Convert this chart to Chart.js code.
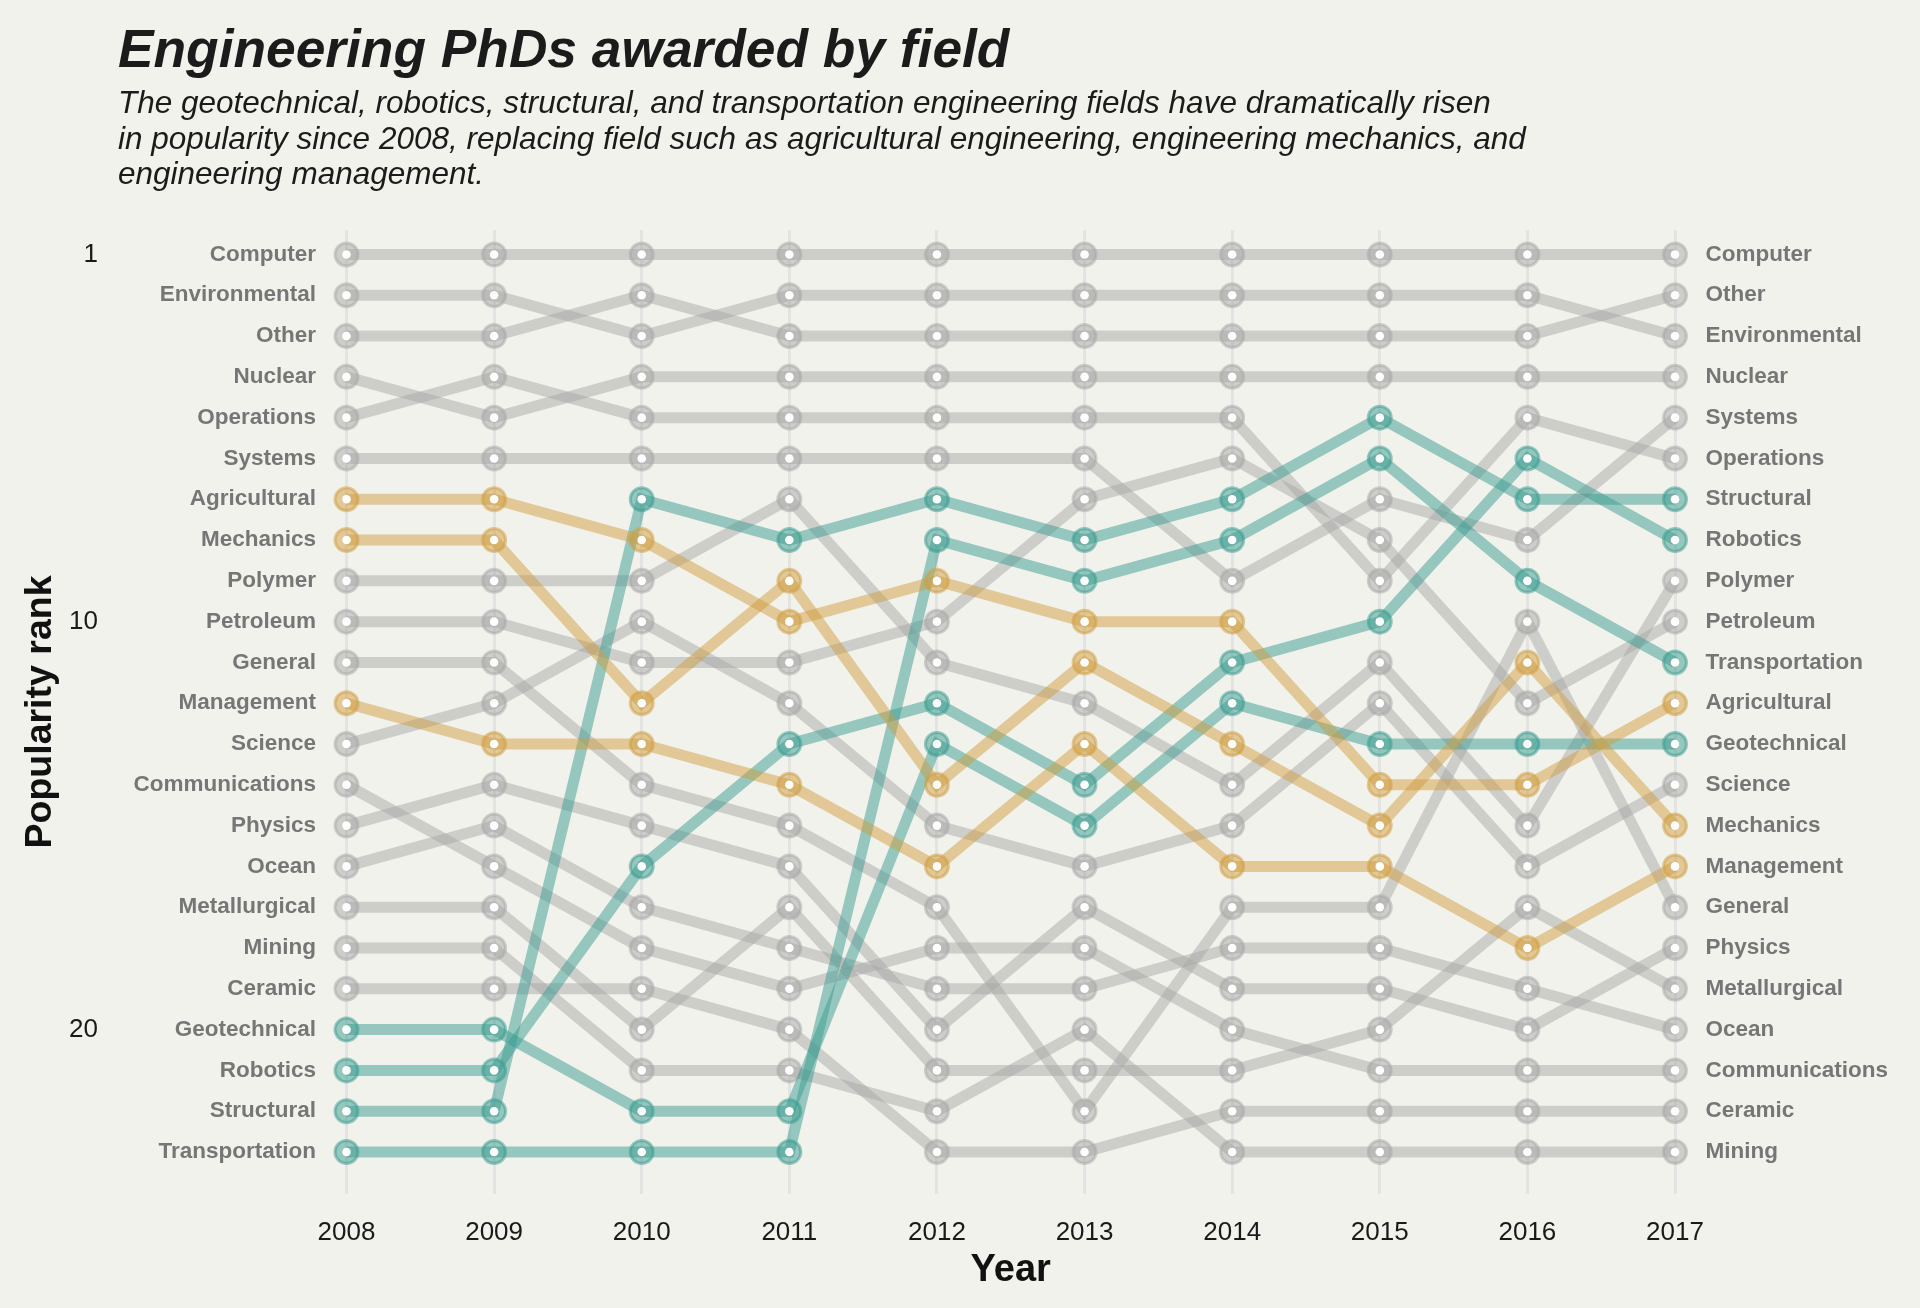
<!DOCTYPE html>
<html>
<head>
<meta charset="utf-8">
<title>Engineering PhDs awarded by field</title>
<script src="https://cdn.jsdelivr.net/npm/chart.js@4.4.1/dist/chart.umd.min.js"></script>
<style>
  html, body { margin: 0; padding: 0; background: #f2f2ed; }
  #wrap { position: relative; width: 1920px; height: 1308px; overflow: hidden; }
  #chart { position: absolute; left: 0; top: 0; }
  h1 {
    position: absolute; left: 118px; top: 22px; margin: 0;
    font: italic bold 53.3px/53px "Liberation Sans", Arial, sans-serif;
    color: #1b1b1b; white-space: nowrap;
  }
  p.sub {
    position: absolute; left: 118px; top: 85px; margin: 0;
    font: italic 31.5px/35.5px "Liberation Sans", Arial, sans-serif;
    color: #1b1b1b; white-space: nowrap;
  }
</style>
</head>
<body>
<div id="wrap">
  <canvas id="chart" width="1920" height="1308"></canvas>
  <h1>Engineering PhDs awarded by field</h1>
  <p class="sub">The geotechnical, robotics, structural, and transportation engineering fields have dramatically risen<br>in popularity since 2008, replacing field such as agricultural engineering, engineering mechanics, and<br>engineering management.</p>
</div>
<script>
const FONT = '"Liberation Sans", Arial, sans-serif';

const years = [2008, 2009, 2010, 2011, 2012, 2013, 2014, 2015, 2016, 2017];

// popularity rank per year (1 = most PhDs)
const rankComputer       = [1, 1, 1, 1, 1, 1, 1, 1, 1, 1];
const rankEnvironmental  = [2, 2, 3, 2, 2, 2, 2, 2, 2, 3];
const rankOther          = [3, 3, 2, 3, 3, 3, 3, 3, 3, 2];
const rankNuclear        = [4, 5, 4, 4, 4, 4, 4, 4, 4, 4];
const rankOperations     = [5, 4, 5, 5, 5, 5, 5, 9, 5, 6];
const rankSystems        = [6, 6, 6, 6, 6, 6, 9, 7, 8, 5];
const rankAgricultural   = [7, 7, 8, 10, 9, 10, 10, 14, 14, 12];
const rankMechanics      = [8, 8, 12, 9, 14, 11, 13, 15, 11, 15];
const rankPolymer        = [9, 9, 9, 7, 11, 12, 14, 11, 15, 9];
const rankPetroleum      = [10, 10, 11, 11, 10, 7, 6, 8, 12, 10];
const rankGeneral        = [11, 11, 14, 15, 17, 22, 17, 17, 10, 17];
const rankManagement     = [12, 13, 13, 14, 16, 13, 16, 16, 18, 16];
const rankScience        = [13, 12, 10, 12, 15, 16, 15, 12, 16, 14];
const rankCommunications = [14, 16, 18, 19, 18, 18, 20, 21, 21, 21];
const rankPhysics        = [15, 14, 15, 16, 20, 17, 19, 19, 20, 18];
const rankOcean          = [16, 15, 17, 18, 19, 19, 18, 18, 19, 20];
const rankMetallurgical  = [17, 17, 20, 17, 21, 21, 21, 20, 17, 19];
const rankMining         = [18, 18, 21, 21, 22, 20, 23, 23, 23, 23];
const rankCeramic        = [19, 19, 19, 20, 23, 23, 22, 22, 22, 22];
const rankGeotechnical   = [20, 20, 22, 22, 13, 15, 12, 13, 13, 13];
const rankRobotics       = [21, 21, 16, 13, 12, 14, 11, 10, 6, 8];
const rankStructural     = [22, 22, 7, 8, 7, 8, 7, 5, 7, 7];
const rankTransportation = [23, 23, 23, 23, 8, 9, 8, 6, 9, 11];

const risingFields = ['Geotechnical', 'Robotics', 'Structural', 'Transportation'];
const fallingFields = ['Agricultural', 'Mechanics', 'Management'];
const rankTicks = [1, 10, 20];

const fields = [
  ['Computer', rankComputer], ['Environmental', rankEnvironmental], ['Other', rankOther],
  ['Nuclear', rankNuclear], ['Operations', rankOperations], ['Systems', rankSystems],
  ['Agricultural', rankAgricultural], ['Mechanics', rankMechanics], ['Polymer', rankPolymer],
  ['Petroleum', rankPetroleum], ['General', rankGeneral], ['Management', rankManagement],
  ['Science', rankScience], ['Communications', rankCommunications], ['Physics', rankPhysics],
  ['Ocean', rankOcean], ['Metallurgical', rankMetallurgical], ['Mining', rankMining],
  ['Ceramic', rankCeramic], ['Geotechnical', rankGeotechnical], ['Robotics', rankRobotics],
  ['Structural', rankStructural], ['Transportation', rankTransportation]
].map(([name, ranks]) => ({ name, ranks }));

const GRAY = 'rgba(168, 168, 168, 0.5)';
const TEAL = 'rgba(58, 156, 143, 0.5)';
const GOLD = 'rgba(208, 158, 63, 0.5)';
const LABEL_GRAY = '#767676';

function colorFor(name) {
  if (risingFields.includes(name)) return TEAL;
  if (fallingFields.includes(name)) return GOLD;
  return GRAY;
}

function fieldAt(yearIndex, rank) {
  const f = fields.find(f => f.ranks[yearIndex] === rank);
  return f ? f.name : '';
}

const toPoints = ranks => years.map((year, i) => ({ x: year, y: ranks[i] }));

const lineSets = fields.map(f => {
  const c = colorFor(f.name);
  return {
    label: f.name,
    data: toPoints(f.ranks),
    borderColor: c,
    backgroundColor: c,
    borderWidth: 11,
    pointRadius: 11.5,
    pointBorderWidth: 3,
    pointBackgroundColor: c,
    pointBorderColor: c,
    tension: 0,
    clip: false,
    order: c === GRAY ? 3 : 2
  };
});

const whiteDots = {
  label: 'dots',
  data: fields.flatMap(f => toPoints(f.ranks)),
  showLine: false,
  pointRadius: 4.3,
  pointBorderWidth: 0,
  pointBackgroundColor: '#ffffff',
  clip: false,
  order: 1
};

// fresh tick objects per scale: Chart.js writes the label onto each one
const rankTickObjects = () => fields.map((_, i) => ({ value: i + 1 }));
const yRange = { min: 0.4, max: 24.03, reverse: true };

new Chart(document.getElementById('chart'), {
  type: 'line',
  data: { datasets: [...lineSets, whiteDots] },
  options: {
    responsive: false,
    animation: false,
    events: [],
    layout: { padding: { top: 230, left: 0, right: 0, bottom: 0 } },
    plugins: { legend: { display: false }, tooltip: { enabled: false } },
    scales: {
      x: {
        type: 'linear',
        min: years[0],
        max: years[years.length - 1],
        afterBuildTicks: s => { s.ticks = years.map(y => ({ value: y })); },
        afterFit: s => { s.height = 114; },
        ticks: {
          padding: 23.5,
          color: '#1a1a1a',
          font: { family: FONT, size: 26 },
          callback: v => String(v)
        },
        grid: { color: '#e3e3e1', lineWidth: 3, drawTicks: false },
        border: { display: false },
        title: {
          display: true,
          text: 'Year',
          color: '#111111',
          font: { family: FONT, size: 38, weight: 'bold' },
          padding: { top: 0, bottom: 14.5 }
        }
      },
      yNum: {
        type: 'linear',
        position: 'left',
        weight: 2,
        ...yRange,
        afterBuildTicks: s => { s.ticks = rankTicks.map(v => ({ value: v })); },
        afterFit: s => { s.width = 110; },
        ticks: { padding: 12, color: '#1a1a1a', font: { family: FONT, size: 26 } },
        grid: { display: false, drawTicks: false },
        border: { display: false },
        title: {
          display: true,
          text: 'Popularity rank',
          color: '#111111',
          font: { family: FONT, size: 37.5, weight: 'bold' },
          padding: { top: 18, bottom: 0 }
        }
      },
      y: {
        type: 'linear',
        position: 'left',
        weight: 1,
        ...yRange,
        afterBuildTicks: s => { s.ticks = rankTickObjects(); },
        afterFit: s => { s.width = 236.5; },
        ticks: {
          padding: 30.5,
          color: LABEL_GRAY,
          font: { family: FONT, size: 22.5, weight: 'bold' },
          callback: v => fieldAt(0, v)
        },
        grid: { display: false, drawTicks: false },
        border: { display: false }
      },
      yRight: {
        type: 'linear',
        position: 'right',
        ...yRange,
        afterBuildTicks: s => { s.ticks = rankTickObjects(); },
        afterFit: s => { s.width = 245; },
        ticks: {
          padding: 30.5,
          color: LABEL_GRAY,
          font: { family: FONT, size: 22.5, weight: 'bold' },
          callback: v => fieldAt(years.length - 1, v)
        },
        grid: { display: false, drawTicks: false },
        border: { display: false }
      }
    }
  }
});
</script>
</body>
</html>
